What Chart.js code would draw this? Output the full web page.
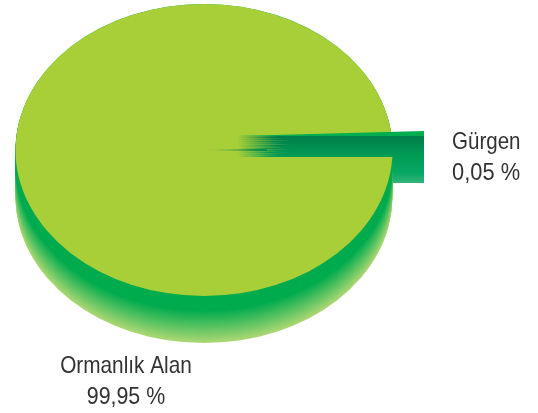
<!DOCTYPE html>
<html lang="tr">
<head>
<meta charset="utf-8">
<title>Ormanlık Alan</title>
<script src="https://cdn.jsdelivr.net/npm/chart.js@4"></script>
<style>
  html, body { margin: 0; background: #fff; }
  canvas { display: block; }
</style>
</head>
<body>
<canvas id="chart" width="538" height="413"></canvas>
<script>
const categories = ['Gürgen', 'Ormanlık Alan'];
const values = [0.05, 99.95];
const valueLabels = ['0,05 %', '99,95 %'];
const sliceColors = ['#008a4e', '#a9cf38'];

// pie is drawn flat and squashed, everything below is relative to its radius
const squash = 0.7745;
const depth = 0.25;
const streaks = [42, 34, 46, 38, 52, 36, 48, 42, 54, 38, 44, 50, 36, 52, 40, 46, 34, 48, 38, 44, 36];

function mix(a, b, t) {
    const c = a.map((v, i) => Math.round(v + (b[i] - v) * t));
    return `rgb(${c[0]},${c[1]},${c[2]})`;
}

function pieGeometry(chart) {
    const arc = chart.getDatasetMeta(0).data[0];
    return { x: arc.x, y: arc.y, r: arc.outerRadius };
}

// no narrow font installed, so squeeze the regular one
function narrowText(ctx, text, x, y, align, sx) {
    ctx.save();
    ctx.translate(x, y);
    ctx.scale(sx, 1);
    ctx.textAlign = align;
    ctx.fillText(text, 0, 0);
    ctx.restore();
}

const pie3d = {
    id: 'pie3d',
    // side wall and lower part of the pulled out slice, under the top face
    beforeDatasetsDraw(chart) {
        const { ctx } = chart;
        const { x, y, r } = pieGeometry(chart);
        const h = r * depth;

        // lower part of the pulled out slice
        const top = Math.round(y + r * 0.037);
        const bottom = Math.round(y + r * 0.175);
        const right = Math.round(x + r * 1.167);
        const from = Math.round(x + r * 0.9);
        const g = ctx.createLinearGradient(0, top, 0, bottom);
        g.addColorStop(0, '#009c55');
        g.addColorStop(0.6, '#07a764');
        g.addColorStop(1, '#35b377');
        ctx.fillStyle = g;
        ctx.fillRect(from, top, right - from, bottom - top);

        for (let d = Math.round(h); d >= 0; d--) {
            const t = d / h;
            const solid = 0.32;
            ctx.fillStyle = t <= solid
                ? '#00ab4e'
                : mix([0, 171, 78], [172, 216, 116], (t - solid) / (1 - solid));
            ctx.beginPath();
            ctx.ellipse(x, y + d, r, r * squash, 0, 0, Math.PI * 2);
            ctx.fill();
        }
    },
    beforeDatasetDraw(chart) {
        const { ctx } = chart;
        const { x, y } = pieGeometry(chart);
        ctx.save();
        ctx.translate(x, y);
        ctx.scale(1, squash);
        ctx.translate(-x, -y);
    },
    afterDatasetDraw(chart) {
        chart.ctx.restore();
    },
    // dark band of the slice over the top face, then the labels
    afterDatasetsDraw(chart) {
        const { ctx } = chart;
        const { x, y, r } = pieGeometry(chart);
        const left = Math.round(x + r * 0.175);
        const right = Math.round(x + r * 1.167);
        const bandTop = Math.round(y - r * 0.075);

        // bright edge along the top
        ctx.fillStyle = '#00ae50';
        ctx.beginPath();
        ctx.moveTo(left, bandTop);
        ctx.lineTo(right, y - r * 0.101);
        ctx.lineTo(right, bandTop);
        ctx.closePath();
        ctx.fill();

        // sliver coming out of the centre
        const tip = ctx.createLinearGradient(x, 0, left + 30, 0);
        tip.addColorStop(0, 'rgba(30,140,70,0.15)');
        tip.addColorStop(1, 'rgba(0,125,72,1)');
        ctx.fillStyle = tip;
        ctx.beginPath();
        ctx.moveTo(x, y);
        ctx.lineTo(left + 30, y - 1.2);
        ctx.lineTo(left + 30, y + 1);
        ctx.closePath();
        ctx.fill();

        // streaky rows fading in from the top face
        streaks.forEach((len, i) => {
            const t = i / (streaks.length - 1);
            const c = [0, Math.round(127 + 29 * t), Math.round(74 + 11 * t)];
            const g = ctx.createLinearGradient(left, 0, left + len, 0);
            g.addColorStop(0, `rgba(${c[0]},${c[1]},${c[2]},0)`);
            g.addColorStop(1, `rgba(${c[0]},${c[1]},${c[2]},1)`);
            ctx.fillStyle = g;
            ctx.fillRect(left, bandTop + i, right - left, 1);
        });

        ctx.fillStyle = '#333333';
        ctx.textBaseline = 'alphabetic';
        ctx.font = "24px 'Liberation Sans', sans-serif";

        const gx = right + r * 0.149;
        narrowText(ctx, categories[0], gx, y - 1, 'left', 0.855);
        narrowText(ctx, valueLabels[0], gx, y + 30, 'left', 0.91);

        const ax = x - r * 0.414;
        narrowText(ctx, categories[1], ax, y + r * 1.185, 'center', 0.865);
        narrowText(ctx, valueLabels[1], ax, y + r * 1.345, 'center', 0.89);
    }
};

new Chart(document.getElementById('chart'), {
    type: 'pie',
    data: {
        labels: categories,
        datasets: [{
            data: values,
            backgroundColor: sliceColors,
            borderWidth: 0,
            clip: false
        }]
    },
    options: {
        responsive: false,
        animation: false,
        rotation: 90,
        radius: 188.5,
        layout: { padding: { left: 0, top: 0, right: 130, bottom: 113 } },
        plugins: { legend: { display: false }, tooltip: { enabled: false } }
    },
    plugins: [pie3d]
});
</script>
</body>
</html>
